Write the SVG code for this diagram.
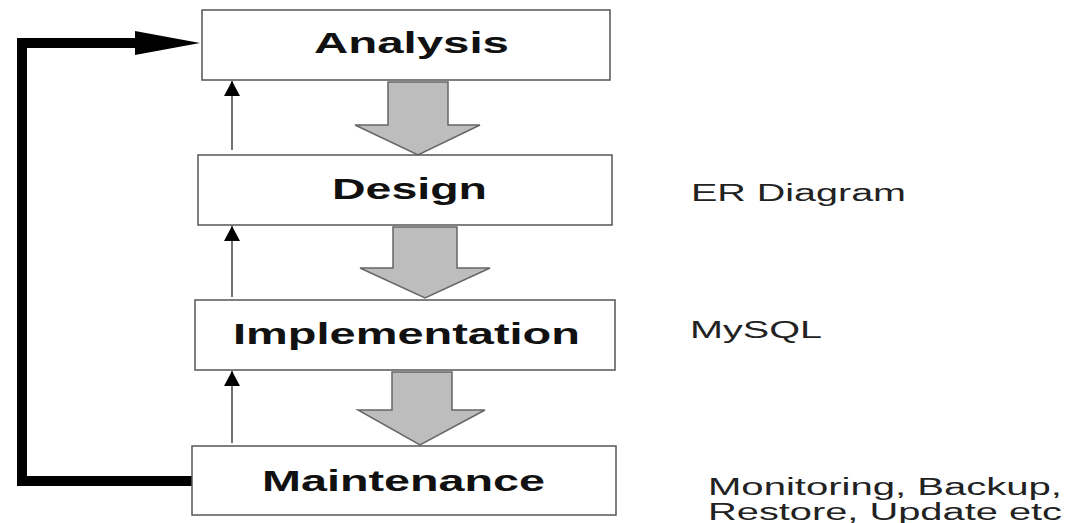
<svg xmlns="http://www.w3.org/2000/svg" width="1075" height="523" viewBox="0 0 1075 523">
<style>
.box{fill:#fff;stroke:#555;stroke-width:1.5}
.lbl{font-family:"Liberation Sans",Arial,sans-serif;font-weight:bold;font-size:29px;fill:#111}
.note{font-family:"Liberation Sans",Arial,sans-serif;font-size:23px;fill:#222}
.block{fill:#bdbdbd;stroke:#666;stroke-width:1.5}
.thin{stroke:#444;stroke-width:1.5;fill:none}
</style>
<defs>
<marker id="tri" viewBox="0 0 10 10" refX="10" refY="5" markerWidth="15" markerHeight="16" markerUnits="userSpaceOnUse" orient="auto" preserveAspectRatio="none">
<path d="M0,0 L10,5 L0,10 z" fill="#000"/>
</marker>
</defs>
<rect width="1075" height="523" fill="#fff"/>
<g id="connectors">
<path class="thin" d="M232,150 V81" marker-end="url(#tri)"/>
<path class="thin" d="M232,297 V226" marker-end="url(#tri)"/>
<path class="thin" d="M232,443 V371" marker-end="url(#tri)"/>
<path d="M192,481 H22 V43 H140" fill="none" stroke="#000" stroke-width="10"/>
<path d="M135,31 L200,43 L135,55 z" fill="#000"/>
<path class="block" d="M388,82 H448 V125 H480 L418,155 L355,125 H388 z"/>
<path class="block" d="M393,227 H457 V268 H490 L425,298 L360,268 H393 z"/>
<path class="block" d="M392,372 H452 V410 H485 L420,445 L358,410 H392 z"/>
</g>
<g id="analysis">
<rect class="box" x="202" y="10" width="408" height="70"/>
<text class="lbl" x="314" y="53" textLength="195" lengthAdjust="spacingAndGlyphs">Analysis</text>
</g>
<g id="design">
<rect class="box" x="198" y="155" width="414" height="70"/>
<text class="lbl" x="332" y="199" textLength="155" lengthAdjust="spacingAndGlyphs">Design</text>
</g>
<g id="implementation">
<rect class="box" x="195" y="300" width="420" height="70"/>
<text class="lbl" x="233" y="344" textLength="347" lengthAdjust="spacingAndGlyphs">Implementation</text>
</g>
<g id="maintenance">
<rect class="box" x="192" y="446" width="424" height="69"/>
<text class="lbl" x="262" y="491" textLength="283" lengthAdjust="spacingAndGlyphs">Maintenance</text>
</g>
<g id="notes">
<text class="note" x="691" y="201" textLength="215" lengthAdjust="spacingAndGlyphs">ER Diagram</text>
<text class="note" x="690" y="338" textLength="132" lengthAdjust="spacingAndGlyphs">MySQL</text>
<text class="note" x="708" y="495" textLength="354" lengthAdjust="spacingAndGlyphs">Monitoring, Backup,</text>
<text class="note" x="708" y="520" textLength="354" lengthAdjust="spacingAndGlyphs">Restore, Update etc</text>
</g>
</svg>
